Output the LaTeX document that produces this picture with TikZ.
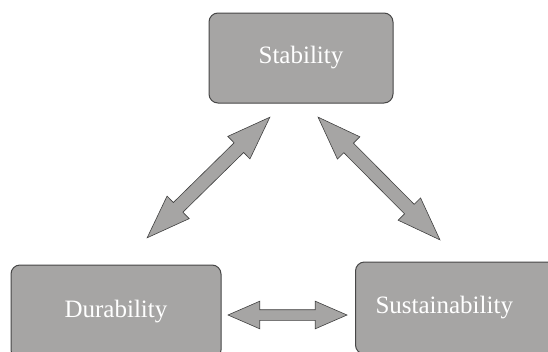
\documentclass[tikz,border=0pt]{standalone}
\usepackage{fontspec}
\setmainfont{Liberation Serif}
\usetikzlibrary{shapes.arrows}
\definecolor{block area}{RGB}{166,165,164}
\colorlet{block edge}{black!72}
\colorlet{arrow edge}{black!75}
\tikzset{block/.style={draw=block edge, fill=block area, rounded corners=9pt, line width=1pt,
		text=white, font=\fontsize{25}{29}\selectfont, minimum width=184pt, minimum height=90pt},
	twoway/.style={double arrow, draw=arrow edge, fill=block area, line width=0.6pt,
		inner xsep=0pt, inner ysep=5pt, double arrow head extend=8.5pt, double arrow tip angle=47},
	slanted/.style={twoway, inner ysep=6.5pt, double arrow head extend=9pt, double arrow tip angle=40}}

\begin{document}
\begin{tikzpicture}[x=1pt,y=-1pt]
		\useasboundingbox (0,0) rectangle (548,351);
		\clip (0,0) rectangle (548,351);
		
		\node[block] (stab) at (301,58) {Stability};
		\node[block, minimum width=210pt, minimum height=94pt] (dur) at (116,312) {Durability};
		\node[block, anchor=west, align=left, text width=190pt, inner xsep=20pt, minimum height=92pt] (sus) at (355,308) {Sustainability};
		
		\node[slanted, minimum height=172pt, rotate=44.5] (stabdur) at (208.5,177.5) {};
		\node[slanted, minimum height=173pt, rotate=-45.2] (stabsus) at (379,178.5) {};
		\node[twoway, minimum height=119pt] (dursus) at (287.5,315) {};
		
\end{tikzpicture}
\end{document}
